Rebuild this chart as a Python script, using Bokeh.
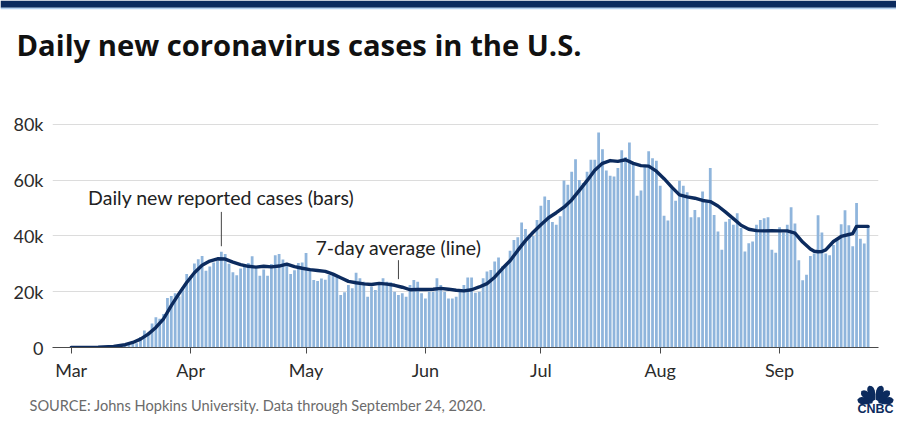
import math
import pandas as pd
from bokeh.plotting import figure
from bokeh.layouts import column
from bokeh.models import (ColumnDataSource, FixedTicker, DatetimeTickFormatter, Label,
                          BoxAnnotation, PolyAnnotation, Range1d)
from bokeh.embed import file_html
from bokeh.resources import INLINE

# ---------------- data ----------------
TITLE = "Daily new coronavirus cases in the U.S."
SOURCE = "SOURCE: Johns Hopkins University. Data through September 24, 2020."
BAR_NOTE = "Daily new reported cases (bars)"
LINE_NOTE = "7-day average (line)"

mar_cases = [10, 20, 25, 30, 60, 80, 110, 120, 200, 290,
             420, 480, 700, 650, 800, 1000, 1300, 1500, 3800, 6100,
             5400, 8600, 10800, 10300, 12000, 17700, 18500, 19400, 18300, 21700, 26300]
apr_cases = [25500, 30100, 31600, 32800, 27500, 29000, 30500, 31000, 34300, 33500,
             30000, 27000, 25900, 28300, 29500, 30300, 32700, 28300, 25700, 28000,
             25700, 29900, 33100, 33500, 31500, 29200, 26300, 27700, 30300, 30500]
may_cases = [33900, 28500, 24200, 23800, 24700, 24300, 26000, 26500, 25300, 18800,
             19800, 22400, 21200, 26800, 24800, 23600, 18200, 21800, 20600, 23000,
             24800, 23600, 23400, 20000, 18800, 19400, 18200, 22400, 24200, 23600, 19400]
jun_cases = [17600, 20000, 20000, 24800, 22400, 20000, 17600, 17600, 18200, 20000,
             22400, 25100, 25100, 19600, 20000, 24800, 27200, 27800, 30800, 32300,
             29000, 29600, 34700, 38500, 39500, 44800, 42500, 40500, 40000, 45700]
jul_cases = [50800, 54100, 52900, 45000, 44000, 47000, 59900, 58300, 63000, 67500,
             60000, 59000, 63000, 67300, 67300, 77100, 71100, 63400, 61600, 61300,
             64300, 70700, 68300, 73500, 66100, 54400, 56300, 64900, 70300, 67800, 66900]
aug_cases = [58000, 47200, 45500, 57100, 52600, 59800, 58000, 55600, 46700, 49300,
             46700, 55900, 52000, 64300, 47500, 41600, 35000, 45100, 46100, 44000,
             48100, 42800, 34400, 37400, 38000, 44000, 45700, 46300, 46700, 35000, 34000]
sep_cases = [43100, 41200, 44000, 50300, 44400, 31300, 24100, 26100, 32800, 33700,
             47400, 41200, 33700, 33100, 36700, 38500, 44200, 49200, 43800, 36300,
             51800, 39000, 37300, 43500]

avg_dates = ["2020-03-01", "2020-03-08", "2020-03-12", "2020-03-15", "2020-03-17", "2020-03-19",
             "2020-03-21", "2020-03-23", "2020-03-25", "2020-03-27", "2020-03-29", "2020-03-31",
             "2020-04-02", "2020-04-04", "2020-04-06", "2020-04-08", "2020-04-10", "2020-04-12",
             "2020-04-14", "2020-04-16", "2020-04-18", "2020-04-20", "2020-04-22", "2020-04-24",
             "2020-04-26", "2020-04-28", "2020-04-30", "2020-05-02", "2020-05-04", "2020-05-06",
             "2020-05-08", "2020-05-10", "2020-05-12", "2020-05-14", "2020-05-16", "2020-05-18",
             "2020-05-20", "2020-05-22", "2020-05-24", "2020-05-26", "2020-05-28", "2020-05-30",
             "2020-06-01", "2020-06-03", "2020-06-05", "2020-06-07", "2020-06-09", "2020-06-11",
             "2020-06-13", "2020-06-15", "2020-06-17", "2020-06-19", "2020-06-21", "2020-06-23",
             "2020-06-25", "2020-06-27", "2020-06-29", "2020-07-01", "2020-07-03", "2020-07-05",
             "2020-07-07", "2020-07-09", "2020-07-11", "2020-07-13", "2020-07-15", "2020-07-17",
             "2020-07-19", "2020-07-21", "2020-07-23", "2020-07-25", "2020-07-27", "2020-07-29",
             "2020-07-31", "2020-08-02", "2020-08-04", "2020-08-06", "2020-08-08", "2020-08-10",
             "2020-08-12", "2020-08-14", "2020-08-16", "2020-08-18", "2020-08-20", "2020-08-22",
             "2020-08-24", "2020-08-26", "2020-08-28", "2020-08-30", "2020-09-01", "2020-09-03",
             "2020-09-05", "2020-09-07", "2020-09-09", "2020-09-10", "2020-09-11", "2020-09-12",
             "2020-09-13", "2020-09-15", "2020-09-17", "2020-09-19", "2020-09-20", "2020-09-21",
             "2020-09-24"]
avg_values = [0, 100, 400, 1000, 1800, 3000,
              4800, 7200, 10300, 15000, 19300, 23300,
              26800, 29500, 31000, 31800, 31700, 30600,
              29700, 29100, 28800, 29100, 28900, 29200,
              29900, 29000, 28400, 27900, 27600, 27300,
              26300, 25000, 23700, 23200, 22800, 22600,
              23000, 22700, 22300, 21600, 20700, 20800,
              20800, 20900, 21200, 20900, 20500, 20300,
              20700, 21700, 22900, 25200, 28300, 31100,
              34800, 38300, 41300, 44000, 46500, 48300,
              50300, 52900, 56300, 59800, 63500, 66000,
              67000, 66700, 67300, 66000, 65200, 65000,
              63200, 60500, 57500, 54700, 54000, 53500,
              52700, 52300, 50700, 48500, 46200, 43800,
              42400, 41900, 41800, 41900, 41800, 41800,
              41000, 37800, 35300, 34500, 34300, 34400,
              35000, 38000, 39800, 40500, 40800, 43400,
              43400]

month_labels = ["Mar", "Apr", "May", "Jun", "Jul", "Aug", "Sep"]
y_ticks = [0, 20000, 40000, 60000, 80000]
y_tick_labels = ["0", "20k", "40k", "60k", "80k"]

# annotation anchors (date, value)
bar_note_date, bar_note_top, bar_note_bottom, bar_note_text_y = "2020-04-09", 48600, 36300, 53750
line_note_date, line_note_top, line_note_bottom, line_note_text_y = "2020-05-25", 31300, 24500, 35900

# ---------------- styles / layout ----------------
FONT = "Lato"
TITLE_FONT = "Open Sans"
NAVY = "#0c2b5e"
BAR = "#8fb5dc"
TEXT = "#2b2b2b"
W = 896
H_HEAD, H_CHART, H_FOOT = 100, 285, 39

DAY_MS = 86400000
def ms(d):
    return pd.Timestamp(d).value / 1e6

daily_cases = mar_cases + apr_cases + may_cases + jun_cases + jul_cases + aug_cases + sep_cases
dates = pd.date_range("2020-03-01", periods=len(daily_cases), freq="D")
src = ColumnDataSource(dict(date=dates, cases=daily_cases))


def blank(height):
    f = figure(width=W, height=height, x_range=Range1d(0, W), y_range=Range1d(height, 0),
               x_axis_location=None, y_axis_location=None, output_backend="svg",
               toolbar_location=None, min_border=0, title=None, frame_align=False)
    f.grid.visible = False
    f.outline_line_color = None
    return f

# ---- header: stripe + title ----
head = blank(H_HEAD)
head.add_layout(BoxAnnotation(left=0, right=W, top=0, bottom=7.3, fill_color=NAVY,
                              fill_alpha=1, line_color=None))
head.add_layout(BoxAnnotation(left=0, right=W, top=7.3, bottom=8.8, fill_color="#b3d0ee",
                              fill_alpha=1, line_color=None))
head.add_layout(Label(x=16, y=44.5, text=TITLE, text_font=TITLE_FONT, text_font_size="29.2px",
                      text_font_style="bold", text_color="#111", text_baseline="alphabetic"))

# ---- chart ----
ML, MT = 52, 13
MR = W - 878
MB = 38
x0 = ms(dates[0]) - 4.86 * DAY_MS
x1 = ms(dates[0]) + 209.7 * DAY_MS
p = figure(width=W, height=H_CHART, x_axis_type="datetime", title=None,
           x_range=Range1d(x0, x1), y_range=Range1d(0, 83870),
           output_backend="svg", toolbar_location=None, frame_align=False,
           min_border_left=ML, min_border_right=MR, min_border_top=MT, min_border_bottom=MB)
p.outline_line_color = None

p.vbar(x="date", top="cases", width=0.72 * DAY_MS, source=src,
       fill_color=BAR, line_color=None)
p.line(x=[pd.Timestamp(d) for d in avg_dates], y=avg_values,
       line_color=NAVY, line_width=3.4, line_join="round", line_cap="round")

month_ticks = [ms(pd.Timestamp(f"2020 {m} 1")) for m in month_labels]
p.xaxis.ticker = FixedTicker(ticks=month_ticks)
p.xaxis.formatter = DatetimeTickFormatter(days="%b", months="%b", years="%b", hours="%b",
                                          minutes="%b", seconds="%b", milliseconds="%b",
                                          microseconds="%b", minsec="%b", hourmin="%b")
p.xaxis.axis_line_color = "#4a4a4a"
p.xaxis.axis_line_width = 1.2
p.xaxis.major_tick_line_color = "#4a4a4a"
p.xaxis.major_tick_out = 6
p.xaxis.major_tick_in = 0
p.xaxis.minor_tick_line_color = None
p.xaxis.major_label_text_font = FONT
p.xaxis.major_label_text_font_size = "18px"
p.xaxis.major_label_text_color = TEXT
p.xaxis.major_label_standoff = 5

p.yaxis.ticker = FixedTicker(ticks=y_ticks)
p.yaxis.major_label_overrides = {t: l for t, l in zip(y_ticks, y_tick_labels)}
p.yaxis.axis_line_color = None
p.yaxis.major_tick_line_color = None
p.yaxis.minor_tick_line_color = None
p.yaxis.major_label_text_font = FONT
p.yaxis.major_label_text_font_size = "18px"
p.yaxis.major_label_text_color = TEXT
p.yaxis.major_label_standoff = 3

p.xgrid.grid_line_color = None
p.ygrid.grid_line_color = "#dcdcdc"
p.ygrid.grid_line_width = 1

p.segment(x0=[pd.Timestamp(bar_note_date)], y0=[bar_note_bottom],
          x1=[pd.Timestamp(bar_note_date)], y1=[bar_note_top], line_color="#444", line_width=1)
p.segment(x0=[pd.Timestamp(line_note_date)], y0=[line_note_bottom],
          x1=[pd.Timestamp(line_note_date)], y1=[line_note_top], line_color="#444", line_width=1)
p.add_layout(Label(x=ms(bar_note_date), y=bar_note_text_y, text=BAR_NOTE, text_align="center",
                   text_baseline="alphabetic", text_font=FONT, text_font_size="19.5px",
                   text_color="#222"))
p.add_layout(Label(x=ms(line_note_date), y=line_note_text_y, text=LINE_NOTE, text_align="center",
                   text_baseline="alphabetic", text_font=FONT, text_font_size="19.5px",
                   text_color="#222"))

# ---- footer: source + CNBC mark ----
foot = blank(H_FOOT)
foot.add_layout(Label(x=29, y=19.8, text=SOURCE, text_font=FONT, text_font_size="14.6px",
                      text_color="#6b6b6b", text_baseline="alphabetic"))
cx, cy = 875, 17.5
for ang in [10, 40, 70, 110, 140, 170]:
    a = math.radians(ang)
    ux, uy = math.cos(a), -math.sin(a)
    vx, vy = -uy, ux
    prof = [(3, 0.9), (8, 2.8), (12, 3.6), (15, 3.4), (17, 2.4), (18.5, 0)]
    xs, ys = [], []
    for r, w in prof:
        xs.append(cx + ux * r + vx * w); ys.append(cy + uy * r + vy * w)
    for r, w in reversed(prof):
        xs.append(cx + ux * r - vx * w); ys.append(cy + uy * r - vy * w)
    foot.add_layout(PolyAnnotation(xs=xs, ys=ys, fill_color=NAVY, fill_alpha=1, line_color=None))
foot.add_layout(Label(x=cx, y=23.5, text="CNBC", text_align="center", text_baseline="alphabetic",
                      text_font="Liberation Sans", text_font_size="12.5px", text_font_style="bold",
                      text_color=NAVY))

layout = column(head, p, foot, spacing=0)
open("out.html", "w").write(file_html(layout, INLINE))
